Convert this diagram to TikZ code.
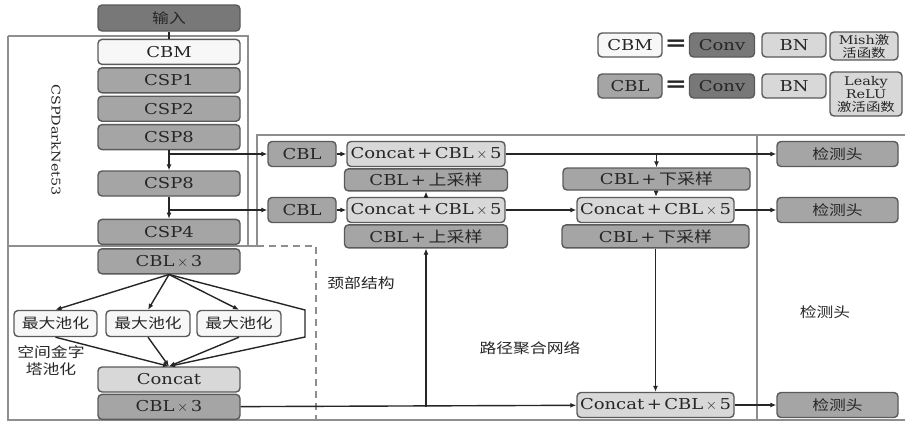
\documentclass[tikz,border=0pt]{standalone}
\usepackage{fontspec}
\setmainfont{DejaVu Serif}[FakeStretch=1.2]
\newfontfamily\cjk{Noto Sans CJK SC}[FakeStretch=1.2]
\usetikzlibrary{arrows.meta,positioning,calc}
\definecolor{dkc}{HTML}{787878}
\definecolor{mdc}{HTML}{A5A5A5}
\definecolor{ltc}{HTML}{D8D8D8}
\definecolor{wtc}{HTML}{F7F7F7}
\definecolor{edgec}{HTML}{5A5A5A}
\definecolor{framec}{HTML}{8E8E8E}
\definecolor{inkc}{HTML}{262626}
\tikzset{
  box/.style={rectangle, rounded corners=4pt, draw=edgec, line width=1.4pt, inner sep=0pt,
              minimum height=25pt, align=center, text=inkc, font=\fontsize{15}{17}\selectfont},
  boxdk/.style={box, fill=dkc},
  boxmd/.style={box, fill=mdc},
  boxlt/.style={box, fill=ltc},
  boxwt/.style={box, fill=wtc},
  bbw/.style={minimum width=142pt},
  frame/.style={draw=framec, line width=1.4pt},
  ln/.style={draw=inkc, line width=1.4pt},
  arr/.style={ln, -{Latex[length=6pt,width=5pt]}},
  lbl/.style={text=inkc, font=\fontsize{14}{17}\selectfont\cjk, align=center, inner sep=1pt},
  legtxt/.style={box, fill=ltc, font=\fontsize{12}{13}\selectfont},
  cjkbox/.style={font=\fontsize{14}{16}\selectfont\cjk},
}
\newcommand{\cx}{\,$\times$\,}

\begin{document}
\begin{tikzpicture}[x=1pt, y=-1pt]
  \useasboundingbox (0,0) rectangle (905,423);
  % frames
  \draw[frame] (8,36) -- (248,36) -- (248,246);
  \draw[frame] (8,36) -- (8,420) -- (905,420);
  \draw[frame] (8,246) -- (257,246);
  \draw[frame, dashed, dash pattern=on 7pt off 5pt] (257,246) -- (316,246) -- (316,420);
  \draw[frame] (257,246) -- (257,135) -- (905,135);
  \draw[frame] (757,135) -- (757,420);

  % backbone
  \node[boxdk, bbw, minimum height=26pt, cjkbox] (in) at (169,18) {输入};
  \node[boxwt, bbw, below=7pt of in] (cbm) {CBM};
  \node[boxmd, bbw, below=2pt of cbm] (csp1) {CSP1};
  \node[boxmd, bbw, below=2pt of csp1] (csp2) {CSP2};
  \node[boxmd, bbw, below=2pt of csp2] (csp8a) {CSP8};
  \node[boxmd, bbw, below=20pt of csp8a] (csp8b) {CSP8};
  \node[boxmd, bbw, below=22pt of csp8b] (csp4) {CSP4};
  \node[boxmd, bbw, below=3pt of csp4] (cbl3) {CBL\cx3};

  % spp
  \node[boxwt, minimum width=83pt, minimum height=26pt, cjkbox] (poola) at (55.5,323.5) {最大池化};
  \node[boxwt, minimum width=84pt, minimum height=26pt, cjkbox] (poolb) at (148,323.5) {最大池化};
  \node[boxwt, minimum width=84pt, minimum height=26pt, cjkbox] (poolc) at (239,323.5) {最大池化};
  \coordinate (bpa) at (305,310);
  \coordinate (bpb) at (305,337);
  \node[boxlt, bbw] (concat) at (169,379.5) {Concat};
  \node[boxmd, bbw, below=1pt of concat] (cbl3b) {CBL\cx3};

  % neck
  \node[boxmd, minimum width=68pt] (cbla) at (302,154) {CBL};
  \node[boxmd, minimum width=68pt] (cblb) at (302,210) {CBL};
  \node[boxlt, minimum width=158pt] (cona) at (426,154) {Concat\,+\,CBL\cx5};
  \node[boxmd, minimum width=163pt, minimum height=22pt, below=1pt of cona] (upa) {CBL\,+\,{\cjk 上采样}};
  \node[boxlt, minimum width=158pt] (conb) at (426,210) {Concat\,+\,CBL\cx5};
  \node[boxmd, minimum width=163pt, minimum height=23pt, below=1pt of conb] (upb) {CBL\,+\,{\cjk 上采样}};
  \node[boxmd, minimum width=187pt, minimum height=22pt] (dna) at (656.5,179) {CBL\,+\,{\cjk 下采样}};
  \node[boxlt, minimum width=157pt] (conc) at (655.5,210) {Concat\,+\,CBL\cx5};
  \node[boxmd, minimum width=187pt, minimum height=23pt, below=1pt of conc] (dnb) {CBL\,+\,{\cjk 下采样}};
  \node[boxlt, minimum width=157pt] (cond) at (655.5,405) {Concat\,+\,CBL\cx5};

  % heads
  \node[boxmd, minimum width=121pt, cjkbox] (heada) at (837.5,154) {检测头};
  \node[boxmd, minimum width=121pt, cjkbox] (headb) at (837.5,210) {检测头};
  \node[boxmd, minimum width=121pt, cjkbox] (headc) at (837.5,405) {检测头};

  % labels
  \node[rotate=-90, text=inkc, font=\fontsize{12}{14}\selectfont] (bbname) at (56,140) {CSPDarkNet53};
  \node[lbl] (sppname) at (51,361) {空间金字\\塔池化};
  \node[lbl] (neckname) at (361,283) {颈部结构};
  \node[lbl] (panname) at (530,348) {路径聚合网络};
  \node[lbl] (headname) at (825,312) {检测头};

  % legend
  \node[boxwt, minimum width=64pt, minimum height=24pt] (lcbm) at (630,45) {CBM};
  \node[text=inkc, font=\fontsize{22}{22}\selectfont\bfseries] (eqa) at (676,45) {=};
  \node[boxdk, minimum width=65pt, minimum height=24pt] (lconva) at (722,45) {Conv};
  \node[boxlt, minimum width=64pt, minimum height=24pt] (lbna) at (794,45) {BN};
  \node[legtxt, minimum width=68pt, minimum height=28pt] (lmish) at (864,46) {Mish{\cjk 激}\\{\cjk 活函数}};
  \node[boxmd, minimum width=64pt, minimum height=24pt] (lcbl) at (630,86) {CBL};
  \node[text=inkc, font=\fontsize{22}{22}\selectfont\bfseries] (eqb) at (676,86) {=};
  \node[boxdk, minimum width=65pt, minimum height=24pt] (lconvb) at (722,86) {Conv};
  \node[boxlt, minimum width=64pt, minimum height=24pt] (lbnb) at (794,86) {BN};
  \node[legtxt, minimum width=72pt, minimum height=44pt] (lleaky) at (866,94) {Leaky\\ReLU\\{\cjk 激活函数}};

  % backbone links
  \draw[ln] (in) -- (cbm);
  \draw[arr] (csp8a) -- (csp8b);
  \draw[arr] (csp8b) -- (csp4);
  \draw[arr] (csp8a.south |- cbla.west) -- (cbla);
  \draw[arr] (csp8b.south |- cblb.west) -- (cblb);

  % spp links
  \foreach \p in {poola,poolb,poolc}{
    \draw[arr] (cbl3.south) -- (\p.north);
    \draw[arr] (\p.south) -- (concat.north);
  }
  \draw[arr] (cbl3.south) -- (bpa) -- (bpb) -- (concat.north);

  % neck links
  \draw[arr] (cbla) -- (cona);
  \draw[arr] (cblb) -- (conb);
  \draw[arr] (conb) -- (upa);
  \draw[arr] (cona) -- (heada);
  \draw[arr] (cona.east -| dna.north) -- (dna);
  \draw[arr] (dna) -- (conc);
  \draw[arr] (conb) -- (conc);
  \draw[arr] (conc) -- (headb);
  \draw[arr] (dnb) -- (cond);
  \draw[arr] (cbl3b) -- (cond);
  \draw[arr] (cbl3b.east -| upb.south) -- (upb);
  \draw[arr] (cond) -- (headc);
\end{tikzpicture}
\end{document}
